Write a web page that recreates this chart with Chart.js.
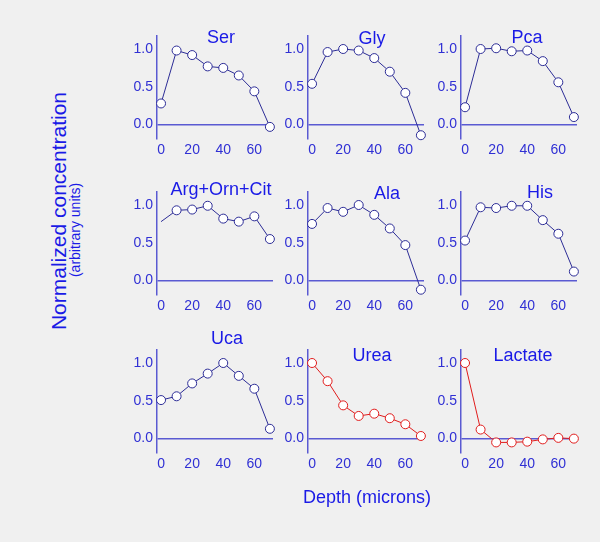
<!DOCTYPE html>
<html>
<head>
<meta charset="utf-8">
<script src="https://cdn.jsdelivr.net/npm/chart.js@4.4.1/dist/chart.umd.min.js"></script>
<style>
  body { margin: 0; background: #f0f0f0; }
  #wrap { position: relative; width: 600px; height: 542px; background: #f0f0f0; overflow: hidden;
          font-family: Arial, "Liberation Sans", sans-serif; }
  canvas { position: absolute; }
  .lbl { position: absolute; color: #1a1ae6; white-space: nowrap; transform: translate(-50%, -50%); }
  .rot { transform: translate(-50%, -50%) rotate(-90deg); }
</style>
</head>
<body>
<div id="wrap"></div>
<script>
// Data
const depth = [0, 10, 20, 30, 40, 50, 60, 70];
const ser = [0.28, 0.98, 0.92, 0.77, 0.75, 0.65, 0.44, -0.03];
const gly = [0.54, 0.96, 1.0, 0.98, 0.88, 0.70, 0.42, -0.14];
const pca = [0.23, 1.0, 1.01, 0.97, 0.98, 0.84, 0.56, 0.10];
const argOrnCit = [0.78, 0.93, 0.94, 0.99, 0.82, 0.78, 0.85, 0.55];
const ala = [0.75, 0.96, 0.91, 1.0, 0.87, 0.69, 0.47, -0.12];
const his = [0.53, 0.97, 0.96, 0.99, 0.99, 0.80, 0.62, 0.12];
const uca = [0.51, 0.56, 0.73, 0.86, 1.0, 0.83, 0.66, 0.13];
const urea = [1.0, 0.76, 0.44, 0.30, 0.33, 0.27, 0.19, 0.035];
const lactate = [1.0, 0.12, -0.05, -0.05, -0.04, -0.01, 0.01, 0.0];

const xTicks = [0, 20, 40, 60];
const yTicks = [0, 0.5, 1.0];

// panel layout
const colX = [157, 308, 461];   // y axis position per column
const rowTop = [33, 189, 347];  // plot top per row
const plotW = 116, plotH = 106;
const axisW = 40, xAxisH = 22, padTop = 10, padRight = 10;

const BLUE_LINE = '#2c2c96', RED_LINE = '#e01c1c';
const AXIS = '#5a5ad2', TICK = '#3030d4';

const panels = [
    { name: 'Ser', data: ser, col: 0, row: 0, color: BLUE_LINE, tx: 221, ty: 37 },
    { name: 'Gly', data: gly, col: 1, row: 0, color: BLUE_LINE, tx: 372, ty: 38 },
    { name: 'Pca', data: pca, col: 2, row: 0, color: BLUE_LINE, tx: 527, ty: 37 },
    { name: 'Arg+Orn+Cit', data: argOrnCit, col: 0, row: 1, color: BLUE_LINE, tx: 221, ty: 189, noFirst: true },
    { name: 'Ala', data: ala, col: 1, row: 1, color: BLUE_LINE, tx: 387, ty: 193 },
    { name: 'His', data: his, col: 2, row: 1, color: BLUE_LINE, tx: 540, ty: 192 },
    { name: 'Uca', data: uca, col: 0, row: 2, color: BLUE_LINE, tx: 227, ty: 338 },
    { name: 'Urea', data: urea, col: 1, row: 2, color: RED_LINE, tx: 372, ty: 355 },
    { name: 'Lactate', data: lactate, col: 2, row: 2, color: RED_LINE, tx: 523, ty: 355 }
];

const wrap = document.getElementById('wrap');

function addLabel(text, x, y, size, rotated) {
    const d = document.createElement('div');
    d.className = 'lbl' + (rotated ? ' rot' : '');
    d.textContent = text;
    d.style.left = x + 'px';
    d.style.top = y + 'px';
    d.style.fontSize = size + 'px';
    wrap.appendChild(d);
}

panels.forEach(p => {
    const cv = document.createElement('canvas');
    const w = axisW + plotW + padRight;
    const h = padTop + plotH + xAxisH;
    cv.width = w;
    cv.height = h;
    cv.style.left = (colX[p.col] - axisW) + 'px';
    cv.style.top = (rowTop[p.row] - padTop) + 'px';
    wrap.appendChild(cv);

    const radii = depth.map((d, i) => (p.noFirst && i === 0) ? 0 : 4.5);

    new Chart(cv.getContext('2d'), {
        type: 'line',
        data: {
            datasets: [{
                data: depth.map((d, i) => ({ x: d, y: p.data[i] })),
                borderColor: p.color,
                borderWidth: 1,
                pointRadius: radii,
                pointBackgroundColor: '#ffffff',
                pointBorderColor: p.color,
                pointBorderWidth: 1,
                tension: 0,
                clip: false
            }]
        },
        options: {
            responsive: false,
            animation: false,
            layout: { padding: { top: padTop, right: padRight, left: 0, bottom: 0 } },
            plugins: { legend: { display: false }, tooltip: { enabled: false } },
            scales: {
                x: {
                    type: 'linear', min: -2.6, max: 72,
                    afterBuildTicks: a => { a.ticks = xTicks.map(v => ({ value: v })); },
                    afterFit: a => { a.height = xAxisH; },
                    grid: { display: false, drawTicks: false },
                    border: { display: false },
                    ticks: { color: TICK, font: { family: 'Arial', size: 14 }, padding: 3, maxRotation: 0 }
                },
                y: {
                    min: -0.19, max: 1.18,
                    afterBuildTicks: a => { a.ticks = yTicks.map(v => ({ value: v })); },
                    afterFit: a => { a.width = axisW; },
                    grid: {
                        drawTicks: false,
                        color: c => c.tick && c.tick.value === 0 ? AXIS : 'rgba(0,0,0,0)',
                        lineWidth: 1.5
                    },
                    border: { display: true, color: AXIS, width: 1.5 },
                    ticks: { color: TICK, font: { family: 'Arial', size: 14 }, padding: 4,
                             callback: v => Number(v).toFixed(1) }
                }
            }
        }
    });

    addLabel(p.name, p.tx, p.ty, 18, false);
});

addLabel('Normalized concentration', 59, 211, 21, true);
addLabel('(arbitrary units)', 75, 230, 14, true);
addLabel('Depth (microns)', 367, 497, 18, false);
</script>
</body>
</html>
